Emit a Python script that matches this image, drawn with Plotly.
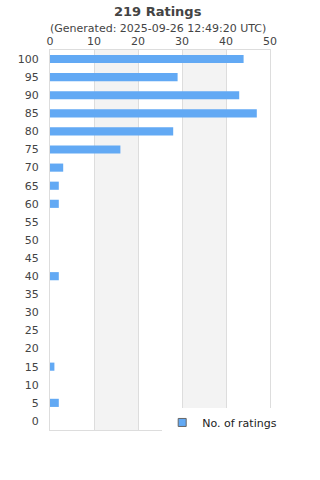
import plotly.graph_objects as go

categories = [str(v) for v in range(0, 105, 5)]
ratings = [0, 2, 0, 1, 0, 0, 0, 0, 2, 0, 0, 0, 2, 2, 3, 16, 28, 47, 43, 29, 44]
x_ticks = [0, 10, 20, 30, 40, 50]
bands = [(10, 20), (30, 40)]

bar_color = "#62a9f4"
font_family = "DejaVu Sans"

fig = go.Figure()
fig.add_trace(go.Bar(
    x=ratings, y=categories, orientation="h",
    marker=dict(color=bar_color, line=dict(width=0)),
    width=0.45, showlegend=False, name="No. of ratings",
))
fig.add_trace(go.Scatter(
    x=[None], y=[None], mode="markers", name="No. of ratings",
    marker=dict(symbol="square", size=8, color=bar_color,
                line=dict(color="#666666", width=1)),
    showlegend=True,
))

shapes = []
for a, b in bands:
    shapes.append(dict(type="rect", xref="x", yref="paper", x0=a, x1=b, y0=0, y1=1,
                       fillcolor="#f3f3f3", line=dict(width=0), layer="below"))

# plot area: 380 px tall, top at 50 px
def py(px):
    return 1 + (50 - px) / 380

fig.update_layout(
    width=320, height=480,
    margin=dict(l=50, r=50, t=50, b=50),
    paper_bgcolor="white", plot_bgcolor="white",
    font=dict(family=font_family, size=11, color="#444444"),
    shapes=shapes,
    annotations=[
        dict(text="<b>219 Ratings</b>", xref="paper", yref="paper", x=0.49, y=py(11),
             xanchor="center", yanchor="middle", showarrow=False,
             font=dict(size=13, color="#444444")),
        dict(text="(Generated: 2025-09-26 12:49:20 UTC)", xref="paper", yref="paper",
             x=0.49, y=py(29), xanchor="center", yanchor="middle", showarrow=False,
             font=dict(size=11, color="#444444")),
    ],
    xaxis=dict(side="top", range=[0, 50], tickvals=x_ticks, ticktext=[str(t) for t in x_ticks],
               showgrid=True, gridcolor="#dddddd", gridwidth=1,
               showline=True, linecolor="#dddddd", mirror=True, zeroline=False,
               ticks="", fixedrange=True, tickfont=dict(size=11, color="#444444")),
    yaxis=dict(categoryorder="array", categoryarray=categories,
               showgrid=False, showline=True, linecolor="#dddddd", mirror=True,
               ticks="outside", ticklen=8, tickcolor="white", zeroline=False,
               tickfont=dict(size=11, color="#444444")),
    legend=dict(x=0.51, xanchor="left", y=0.058, yanchor="top",
                bgcolor="white", font=dict(size=11, color="#222222"),
                itemwidth=30),
    bargap=0.5,
)

fig.write_html("out.html")
